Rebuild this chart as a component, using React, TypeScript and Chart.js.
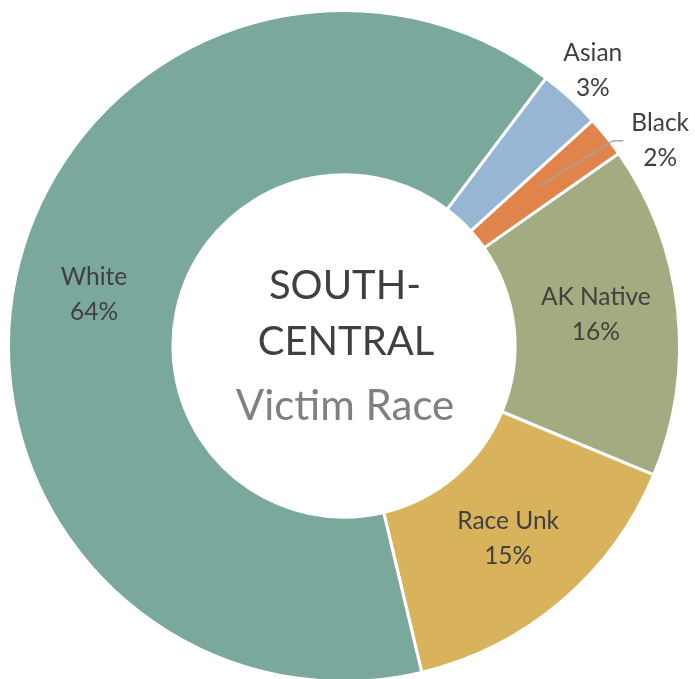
import React, { useEffect, useRef } from "react";
import { Chart, registerables } from "chart.js";

Chart.register(...registerables);

const categories = ["Asian", "Black", "AK Native", "Race Unk", "White"];
const values = [3, 2, 16, 15, 64];
const percentLabels = ["3%", "2%", "16%", "15%", "64%"];
const colors = ["#97B6D4", "#E0844B", "#A3AB80", "#D9B25C", "#7BA89D"];
const titleLines = ["SOUTH-", "CENTRAL"];
const subtitle = "Victim Race";

const FONT = "Lato, 'Open Sans', sans-serif";

const labelPlugin = {
  id: "sliceLabels",
  afterDatasetsDraw(chart: any) {
    const ctx = chart.ctx;
    const meta = chart.getDatasetMeta(0);
    ctx.save();
    ctx.textAlign = "center";
    ctx.textBaseline = "middle";
    ctx.fillStyle = "#404040";
    ctx.font = `24.5px ${FONT}`;
    meta.data.forEach((arc: any, i: number) => {
      const p = arc.getProps(["x", "y", "startAngle", "endAngle", "innerRadius", "outerRadius"], true);
      const mid = (p.startAngle + p.endAngle) / 2;
      const midR = (p.innerRadius + p.outerRadius) / 2;
      const cos = Math.cos(mid), sin = Math.sin(mid);
      let cx = p.x + cos * midR;
      let cy = p.y + sin * midR;
      const name = categories[i];
      if (name === "Asian") {
        const r = p.outerRadius + 35;
        cx = p.x + cos * r - 1;
        cy = p.y + sin * r - 2;
      } else if (name === "Black") {
        const ox = p.x + cos * p.outerRadius;
        const oy = p.y + sin * p.outerRadius;
        const tx = ox + 54;
        const ty = oy + 4;
        const w = ctx.measureText(name).width;
        const left = tx - w / 2;
        ctx.strokeStyle = "#A5A5A5";
        ctx.lineWidth = 1.5;
        ctx.beginPath();
        ctx.moveTo(cx - 2, cy - 2);
        ctx.lineTo(left - 18, ty);
        ctx.lineTo(left - 8, ty);
        ctx.stroke();
        cx = tx;
        cy = ty;
      } else if (name === "AK Native") {
        cy -= 4;
      } else if (name === "White") {
        cx -= 2;
      }
      ctx.fillText(name, cx, cy - 17.5);
      ctx.fillText(percentLabels[i], cx, cy + 17.5);
    });

    // centre text
    const a = meta.data[0];
    const x = a.x, y = a.y;
    ctx.fillStyle = "#404040";
    ctx.font = `40px ${FONT}`;
    ctx.fillText(titleLines[0], x + 1, y - 60);
    ctx.fillText(titleLines[1], x + 2, y - 4);
    ctx.fillStyle = "#808080";
    ctx.font = `42px ${FONT}`;
    ctx.fillText(subtitle, x + 1, y + 60);
    ctx.restore();
  },
};

export default function App() {
  const ref = useRef<HTMLCanvasElement | null>(null);
  useEffect(() => {
    if (!ref.current) return;
    const chart = new Chart(ref.current, {
      type: "doughnut",
      data: {
        labels: categories,
        datasets: [
          {
            data: values,
            backgroundColor: colors,
            borderColor: "#FFFFFF",
            borderWidth: 3,
          },
        ],
      },
      options: {
        animation: false,
        responsive: false,
        rotation: 37,
        cutout: "51%",
        layout: { padding: { left: 7, right: 14, top: 9, bottom: 17 } },
        plugins: { legend: { display: false }, tooltip: { enabled: false } },
      },
      plugins: [labelPlugin],
    });
    return () => chart.destroy();
  }, []);
  return (
    <div style={{ position: "fixed", left: 0, top: 0, width: 695, height: 700, background: "#fff" }}>
      <canvas ref={ref} width={695} height={700} style={{ width: 695, height: 700 }} />
    </div>
  );
}
